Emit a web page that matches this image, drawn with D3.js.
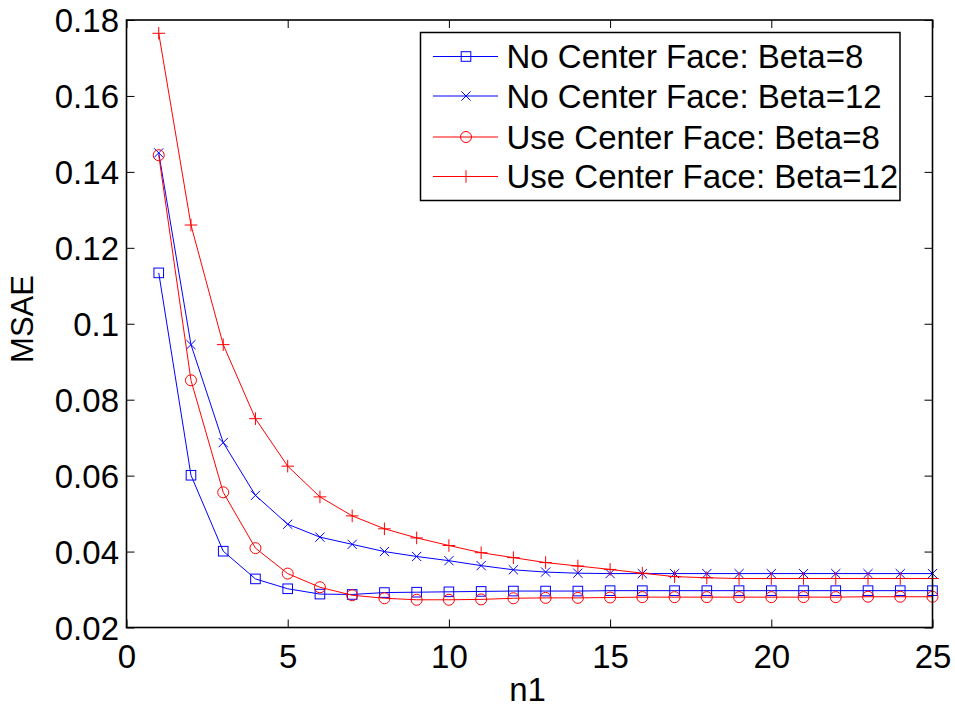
<!DOCTYPE html>
<html>
<head>
<meta charset="utf-8">
<script src="https://cdn.jsdelivr.net/npm/d3@7"></script>
<style>
  html, body { margin: 0; padding: 0; background: #fff; }
  svg { display: block; font-family: "Liberation Sans", Arial, Helvetica, sans-serif; }
</style>
</head>
<body>
<svg id="chart" width="955" height="707"></svg>
<script>
// ---- data ----
const n1 = d3.range(1, 26);
const noCenterBeta8 = [0.1134, 0.0601, 0.0401, 0.0328, 0.0302, 0.0288, 0.0287, 0.0292, 0.0293, 0.0294,
  0.0295, 0.0296, 0.0296, 0.0296, 0.0297, 0.0297, 0.0297, 0.0297, 0.0297, 0.0297,
  0.0297, 0.0297, 0.0297, 0.0297, 0.0297];
const noCenterBeta12 = [0.1450, 0.0945, 0.0687, 0.0548, 0.0472, 0.0438, 0.0419, 0.0400, 0.0387, 0.0376,
  0.0363, 0.0352, 0.0346, 0.0343, 0.0342, 0.0342, 0.0342, 0.0342, 0.0342, 0.0342,
  0.0342, 0.0342, 0.0342, 0.0342, 0.0342];
const useCenterBeta8 = [0.1444, 0.0851, 0.0556, 0.0409, 0.0342, 0.0306, 0.0285, 0.0277, 0.0273, 0.0273,
  0.0274, 0.0277, 0.0278, 0.0278, 0.0279, 0.0280, 0.0280, 0.0280, 0.0280, 0.0280,
  0.0280, 0.0280, 0.0281, 0.0281, 0.0281];
const useCenterBeta12 = [0.1765, 0.1260, 0.0945, 0.0750, 0.0625, 0.0544, 0.0494, 0.0460, 0.0436, 0.0416,
  0.0397, 0.0384, 0.0371, 0.0362, 0.0353, 0.0343, 0.0334, 0.0331, 0.0329, 0.0329,
  0.0329, 0.0329, 0.0329, 0.0329, 0.0329];
const seriesNames = ["No Center Face: Beta=8", "No Center Face: Beta=12", "Use Center Face: Beta=8", "Use Center Face: Beta=12"];
const xTicks = [0, 5, 10, 15, 20, 25];
const yTicks = [0.02, 0.04, 0.06, 0.08, 0.1, 0.12, 0.14, 0.16, 0.18];
const xLabel = "n1";
const yLabel = "MSAE";

const series = [
  { name: seriesNames[0], values: noCenterBeta8, color: "#0000ff", marker: "square" },
  { name: seriesNames[1], values: noCenterBeta12, color: "#0000ff", marker: "x" },
  { name: seriesNames[2], values: useCenterBeta8, color: "#ff0000", marker: "circle" },
  { name: seriesNames[3], values: useCenterBeta12, color: "#ff0000", marker: "plus" }
];

// ---- layout ----
const L = 126.5, R = 932.5, T = 20, B = 627.5;
const FS = 33;
const svg = d3.select("#chart");

const x = d3.scaleLinear().domain([0, 25]).range([L, R]);
const y = d3.scaleLinear().domain([0.02, 0.18]).range([B, T]);

const fmt = d => String(+d.toFixed(2));

// axes: ticks inward
const tickLen = 8;
svg.append("g").attr("transform", `translate(0,${B})`)
  .call(d3.axisBottom(x).tickValues(xTicks).tickSizeInner(-tickLen).tickSizeOuter(0).tickFormat(fmt))
  .call(g => { g.select(".domain").remove();
    g.selectAll("line").attr("stroke", "#000").attr("stroke-width", 1);
    g.selectAll("text").attr("font-size", FS).attr("fill", "#000").attr("y", 0).attr("dy", 40.5); });
svg.append("g").attr("transform", `translate(0,${T})`)
  .call(d3.axisTop(x).tickValues(xTicks).tickSizeInner(-tickLen).tickSizeOuter(0).tickFormat(""))
  .call(g => { g.select(".domain").remove(); g.selectAll("line").attr("stroke", "#000"); });
svg.append("g").attr("transform", `translate(${L},0)`)
  .call(d3.axisLeft(y).tickValues(yTicks).tickSizeInner(-tickLen).tickSizeOuter(0).tickFormat(fmt))
  .call(g => { g.select(".domain").remove();
    g.selectAll("line").attr("stroke", "#000");
    g.selectAll("text").attr("font-size", FS).attr("fill", "#000").attr("x", -7.5).attr("dy", "0.36em"); });
svg.append("g").attr("transform", `translate(${R},0)`)
  .call(d3.axisRight(y).tickValues(yTicks).tickSizeInner(-tickLen).tickSizeOuter(0).tickFormat(""))
  .call(g => { g.select(".domain").remove(); g.selectAll("line").attr("stroke", "#000"); });

// clip for lines
svg.append("defs").append("clipPath").attr("id", "clip")
  .append("rect").attr("x", L - 8).attr("y", T - 8).attr("width", R - L + 16).attr("height", B - T + 16);

function drawMarker(g, type, cx, cy, color) {
  if (type === "square") {
    const s = 4.8;
    g.append("rect").attr("x", cx - s).attr("y", cy - s).attr("width", 2 * s).attr("height", 2 * s)
      .attr("fill", "none").attr("stroke", color).attr("stroke-width", 1);
  } else if (type === "circle") {
    g.append("circle").attr("cx", cx).attr("cy", cy).attr("r", 5.5)
      .attr("fill", "none").attr("stroke", color).attr("stroke-width", 1);
  } else if (type === "x") {
    const s = 4.6;
    g.append("path").attr("d", `M${cx - s},${cy - s}L${cx + s},${cy + s}M${cx - s},${cy + s}L${cx + s},${cy - s}`)
      .attr("stroke", color).attr("stroke-width", 1).attr("fill", "none");
  } else if (type === "plus") {
    const s = 6.3;
    g.append("path").attr("d", `M${cx - s},${cy}L${cx + s},${cy}M${cx},${cy - s}L${cx},${cy + s}`)
      .attr("stroke", color).attr("stroke-width", 1).attr("fill", "none");
  }
}

const line = d3.line().x((d, i) => x(n1[i])).y(d => y(d));
const plot = svg.append("g").attr("clip-path", "url(#clip)");
series.forEach(s => {
  const g = plot.append("g");
  g.append("path").datum(s.values).attr("d", line)
    .attr("fill", "none").attr("stroke", s.color).attr("stroke-width", 1);
  s.values.forEach((v, i) => drawMarker(g, s.marker, x(n1[i]), y(v), s.color));
});

// frame
svg.append("rect").attr("x", L).attr("y", T).attr("width", R - L).attr("height", B - T)
  .attr("fill", "none").attr("stroke", "#000").attr("stroke-width", 1.6);

// axis labels
svg.append("text").attr("x", (L + R) / 2 - 2).attr("y", 701).attr("text-anchor", "middle")
  .attr("font-size", FS).attr("fill", "#000").text(xLabel);
svg.append("text").attr("transform", `translate(33,319) rotate(-90)`).attr("text-anchor", "middle")
  .attr("font-size", 31).attr("fill", "#000").text(yLabel);

// legend
const lg = svg.append("g");
lg.append("rect").attr("x", 420.5).attr("y", 32.5).attr("width", 479.5).attr("height", 168)
  .attr("fill", "#fff").attr("stroke", "#000").attr("stroke-width", 1.5);
const rowY = [56.5, 96, 137, 176.5];
series.forEach((s, i) => {
  const ry = rowY[i];
  lg.append("line").attr("x1", 433).attr("x2", 498).attr("y1", ry).attr("y2", ry)
    .attr("stroke", s.color).attr("stroke-width", 1);
  drawMarker(lg, s.marker, 466, ry, s.color);
  lg.append("text").attr("x", 506.5).attr("y", ry).attr("dy", "0.36em")
    .attr("font-size", FS).attr("fill", "#000").text(s.name);
});
</script>
</body>
</html>
